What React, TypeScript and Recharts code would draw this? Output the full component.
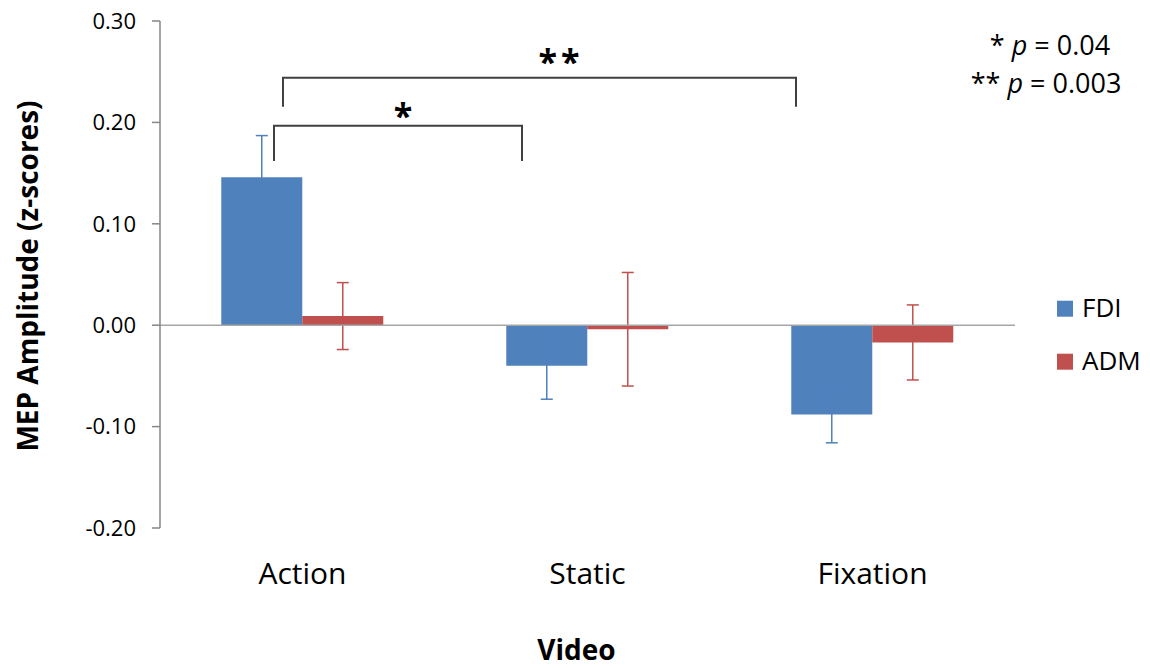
import React from 'react';
import {
  BarChart,
  Bar,
  XAxis,
  YAxis,
  ErrorBar,
  ReferenceLine,
} from 'recharts';

const categories = ['Action', 'Static', 'Fixation'];
const fdiMeans = [0.146, -0.04, -0.088];
const fdiErrors = [0.041, 0.033, 0.028];
const admMeans = [0.009, -0.004, -0.017];
const admErrors = [0.033, 0.056, 0.037];
const yTicks = [-0.2, -0.1, 0, 0.1, 0.2, 0.3];
const seriesNames = ['FDI', 'ADM'];

const FDI_COLOR = '#4F81BD';
const ADM_COLOR = '#C0504D';
const FONT = '"Open Sans", "DejaVu Sans", sans-serif';

const data = categories.map((video, i) => ({
  video,
  FDI: fdiMeans[i],
  fdiErr: fdiErrors[i],
  ADM: admMeans[i],
  admErr: admErrors[i],
}));

function LegendBox() {
  const colors = [FDI_COLOR, ADM_COLOR];
  return (
    <svg
      width={95}
      height={100}
      style={{ position: 'absolute', left: 1057, top: 290 }}
    >
      {seriesNames.map((name, i) => (
        <g key={name} transform={`translate(0, ${i * 53})`}>
          <rect x={0} y={10.7} width={16} height={16} fill={colors[i]} />
          <text x={25} y={26.7} fontSize={26} fontFamily={FONT} fill="#000">
            {name}
          </text>
        </g>
      ))}
    </svg>
  );
}

// significance brackets and p-value note drawn on top of the chart
function Annotations() {
  return (
    <svg
      width={1150}
      height={668}
      style={{ position: 'absolute', left: 0, top: 0, pointerEvents: 'none' }}
    >
      <path d="M283,106.7 V77.7 H796 V106.7" fill="none" stroke="#404040" strokeWidth={2} />
      <path d="M274,161 V125.7 H522 V161" fill="none" stroke="#404040" strokeWidth={2} />
      <text x={561} y={74} textAnchor="middle" fontSize={34} fontWeight="bold" fontFamily={FONT} letterSpacing={4}>
        **
      </text>
      <text x={403} y={128} textAnchor="middle" fontSize={34} fontWeight="bold" fontFamily={FONT}>
        *
      </text>
      <text x={1050} y={55} textAnchor="middle" fontSize={27} fontFamily={FONT} fill="#000">
        * <tspan fontStyle="italic">p</tspan> = 0.04
      </text>
      <text x={1046} y={93} textAnchor="middle" fontSize={27} fontFamily={FONT} fill="#000">
        ** <tspan fontStyle="italic">p</tspan> = 0.003
      </text>
    </svg>
  );
}

export default function App() {
  return (
    <div style={{ position: 'relative', width: 1150, height: 668, background: '#fff' }}>
      <style>{'body { margin: 0; }'}</style>
      <BarChart
        width={1150}
        height={668}
        data={data}
        margin={{ top: 21, right: 135, bottom: 0, left: 0 }}
        barCategoryGap="21.5%"
        barGap={0}
      >
        <XAxis
          dataKey="video"
          height={140}
          axisLine={false}
          tickLine={false}
          tickMargin={29}
          tick={{ fontSize: 30, fill: '#000', fontFamily: FONT }}
          label={{
            content: ({ viewBox }: any) => (
              <text
                x={viewBox.x + viewBox.width / 2 - 11}
                y={660}
                textAnchor="middle"
                fontSize={28}
                fontWeight="bold"
                fontFamily={FONT}
                fill="#000"
              >
                Video
              </text>
            ),
          }}
        />
        <YAxis
          width={160}
          domain={[-0.2, 0.3]}
          ticks={yTicks}
          interval={0}
          tickFormatter={(v: number) => v.toFixed(2)}
          tickSize={8}
          tickMargin={16}
          axisLine={{ stroke: '#868686', strokeWidth: 1.5 }}
          tickLine={{ stroke: '#868686', strokeWidth: 1.5 }}
          tick={{ fontSize: 22, fill: '#000', fontFamily: FONT }}
          label={{
            content: () => (
              <text
                x={0}
                y={0}
                transform="translate(38, 276) rotate(-90)"
                textAnchor="middle"
                fontSize={28}
                fontWeight="bold"
                fontFamily={FONT}
                fill="#000"
              >
                MEP Amplitude (z-scores)
              </text>
            ),
          }}
        />
        <Bar dataKey="FDI" fill={FDI_COLOR} isAnimationActive={false}>
          <ErrorBar dataKey="fdiErr" width={6} stroke={FDI_COLOR} strokeWidth={1.5} />
        </Bar>
        <Bar dataKey="ADM" fill={ADM_COLOR} isAnimationActive={false}>
          <ErrorBar dataKey="admErr" width={6} stroke={ADM_COLOR} strokeWidth={1.5} />
        </Bar>
        <ReferenceLine y={0} stroke="#A6A6A6" strokeWidth={1.5} />
      </BarChart>
      <LegendBox />
      <Annotations />
    </div>
  );
}
